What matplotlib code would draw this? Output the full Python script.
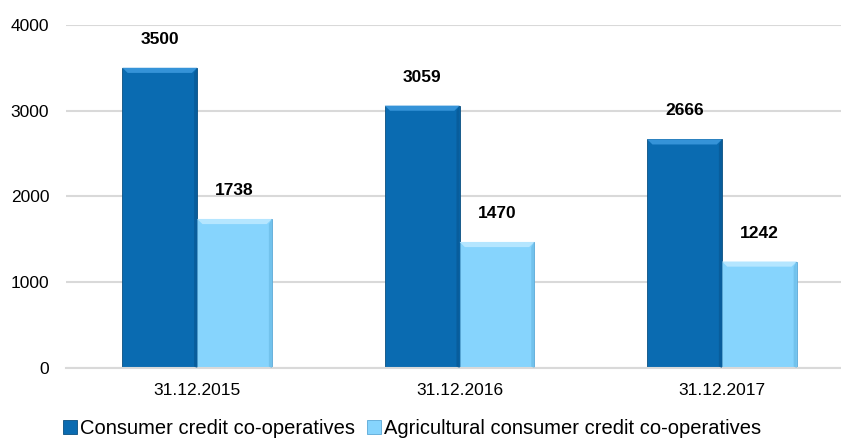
import matplotlib
matplotlib.use("Agg")
import matplotlib.pyplot as plt
from matplotlib.patches import Polygon
import numpy as np

# ----------------------------
# DATA
# ----------------------------
dates = ["31.12.2015", "31.12.2016", "31.12.2017"]
consumer = [3500, 3059, 2666]
agricultural = [1738, 1470, 1242]
series_names = ["Consumer credit co-operatives",
                "Agricultural consumer credit co-operatives"]

# ----------------------------
# STYLE
# ----------------------------
plt.rcParams["font.family"] = ["Liberation Sans", "DejaVu Sans"]
dark = "#0A6BB1"
dark_top = "#3593D8"
dark_side = "#07558E"
light = "#86D4FD"
light_top = "#B5E6FF"
light_side = "#66B6E2"
grid_col = "#D9D9D9"

fig = plt.figure(figsize=(8.41, 4.44), dpi=100)
# axes run a bit past the right edge, like the original
ax = fig.add_axes([0.0785, 0.171, 0.936, 0.773])

x = np.arange(len(dates))
w = 0.285
bx = 0.02    # bevel width (data x)
by = 60      # bevel height (data y)


def bevel(ax, left, width, height, top_c, side_c):
    r = left + width
    # top
    ax.add_patch(Polygon([[left, height], [r, height], [r - bx, height - by], [left + bx, height - by]],
                         closed=True, facecolor=top_c, edgecolor="none", zorder=3))
    # right side
    ax.add_patch(Polygon([[r, height], [r, 0], [r - bx * 0.6, by * 0.3], [r - bx * 0.6, height - by]],
                         closed=True, facecolor=side_c, edgecolor="none", zorder=3, alpha=0.6))


b1 = ax.bar(x - w / 2, consumer, w, color=dark, edgecolor="#0A4F80", linewidth=0.6, zorder=2,
            label=series_names[0])
b2 = ax.bar(x + w / 2, agricultural, w, color=light, edgecolor="#5AA8D6", linewidth=0.6, zorder=2,
            label=series_names[1])

for xi, v in zip(x, consumer):
    bevel(ax, xi - w, w, v, dark_top, dark_side)
for xi, v in zip(x, agricultural):
    bevel(ax, xi, w, v, light_top, light_side)

for bars in (b1, b2):
    for rect in bars:
        h = rect.get_height()
        ax.annotate(f"{h:.0f}", (rect.get_x() + rect.get_width() / 2, h),
                    xytext=(0, 15), textcoords="offset points",
                    ha="center", va="bottom", fontsize=12.5, fontweight="bold")

ax.set_xlim(-0.5, 2.5)
ax.set_ylim(0, 4000)
ax.set_yticks([0, 1000, 2000, 3000, 4000])
ax.set_xticks(x)
ax.set_xticklabels(dates)
ax.tick_params(axis="both", length=0, labelsize=12.5)
ax.tick_params(axis="y", pad=12)
ax.tick_params(axis="x", pad=11)
ax.yaxis.grid(True, color=grid_col, linewidth=1.5, zorder=0)
ax.set_axisbelow(True)
for s in ["top", "right", "left"]:
    ax.spines[s].set_visible(False)
ax.spines["bottom"].set_color(grid_col)
ax.spines["bottom"].set_linewidth(1.5)

fig.legend(handles=[b1, b2], loc="lower center", bbox_to_anchor=(0.49, -0.028), ncol=2,
           frameon=False, fontsize=14.5, handlelength=0.7, handleheight=0.7,
           handletextpad=0.15, columnspacing=0.6)

fig.savefig("out.png", dpi=100)
